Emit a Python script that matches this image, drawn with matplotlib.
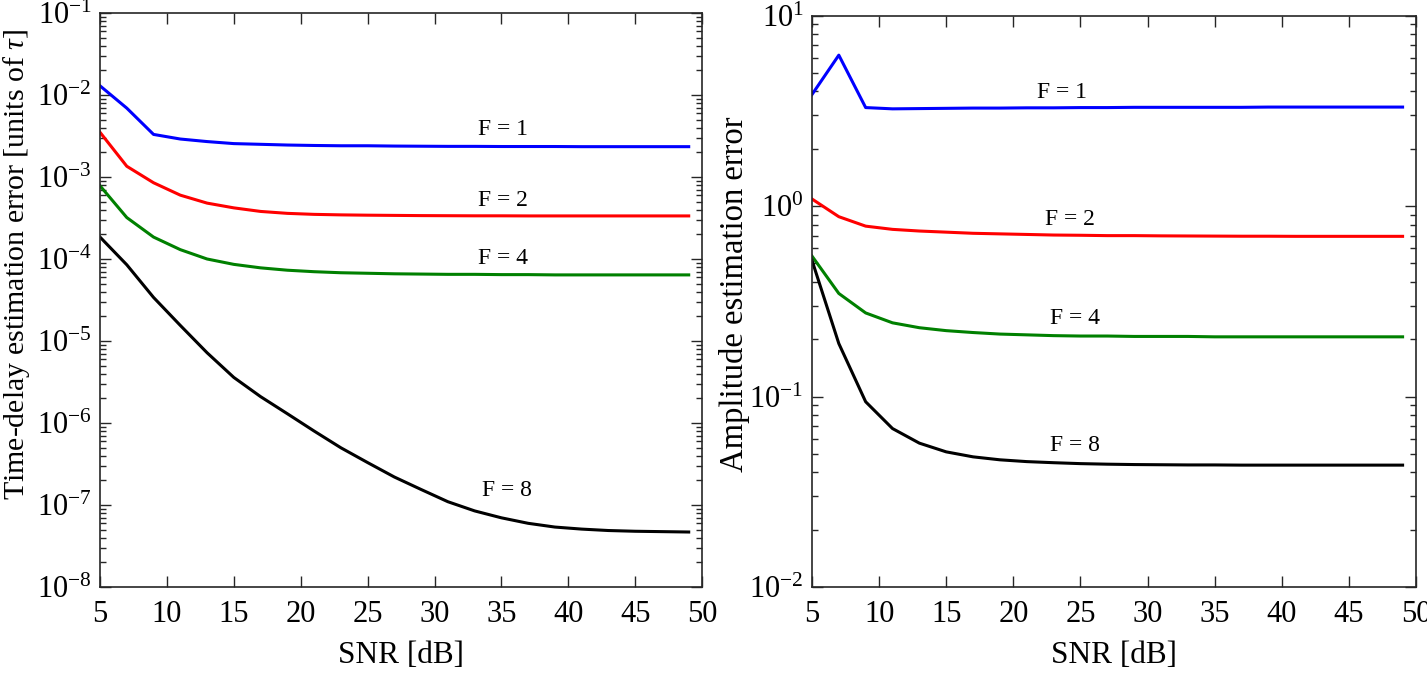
from matplotlib import pyplot as plt
from matplotlib.ticker import LogLocator, FixedLocator, NullLocator, FuncFormatter
import numpy as np

plt.rcParams["font.family"] = ["Liberation Serif", "DejaVu Serif"]
plt.rcParams["mathtext.fontset"] = "custom"
plt.rcParams["mathtext.rm"] = "Liberation Serif"
plt.rcParams["mathtext.it"] = "Liberation Serif:italic"

snr = np.arange(5, 50, 2)

# time-delay estimation error (units of tau)
delay_f1 = [1.29e-2, 6.9e-3, 3.3e-3, 2.9e-3, 2.7e-3, 2.55e-3, 2.5e-3, 2.45e-3,
            2.42e-3, 2.4e-3, 2.4e-3, 2.38e-3, 2.37e-3, 2.36e-3, 2.36e-3, 2.35e-3,
            2.35e-3, 2.35e-3, 2.34e-3, 2.34e-3, 2.34e-3, 2.34e-3, 2.34e-3]
delay_f2 = [3.5e-3, 1.35e-3, 8.5e-4, 6.0e-4, 4.8e-4, 4.2e-4, 3.8e-4, 3.6e-4,
            3.5e-4, 3.45e-4, 3.42e-4, 3.4e-4, 3.38e-4, 3.37e-4, 3.36e-4, 3.36e-4,
            3.35e-4, 3.35e-4, 3.35e-4, 3.35e-4, 3.35e-4, 3.35e-4, 3.35e-4]
delay_f4 = [7.8e-4, 3.2e-4, 1.85e-4, 1.3e-4, 1.0e-4, 8.6e-5, 7.8e-5, 7.3e-5,
            7.0e-5, 6.8e-5, 6.7e-5, 6.6e-5, 6.55e-5, 6.5e-5, 6.5e-5, 6.45e-5,
            6.45e-5, 6.4e-5, 6.4e-5, 6.4e-5, 6.4e-5, 6.4e-5, 6.4e-5]
delay_f8 = [1.85e-4, 8.5e-5, 3.4e-5, 1.55e-5, 7.2e-6, 3.6e-6, 2.1e-6, 1.3e-6,
            8.0e-7, 5.0e-7, 3.3e-7, 2.2e-7, 1.55e-7, 1.1e-7, 8.5e-8, 7.0e-8,
            6.0e-8, 5.4e-8, 5.1e-8, 4.9e-8, 4.8e-8, 4.75e-8, 4.7e-8]

# amplitude estimation error
amp_f1 = [3.85, 6.2, 3.29, 3.24, 3.25, 3.26, 3.27, 3.27, 3.28, 3.28, 3.29, 3.29,
          3.3, 3.3, 3.3, 3.3, 3.3, 3.31, 3.31, 3.31, 3.31, 3.31, 3.31]
amp_f2 = [1.09, 0.88, 0.785, 0.755, 0.74, 0.73, 0.72, 0.715, 0.71, 0.705, 0.703,
          0.7, 0.7, 0.698, 0.697, 0.696, 0.695, 0.695, 0.694, 0.694, 0.694, 0.694, 0.694]
amp_f4 = [0.547, 0.348, 0.275, 0.244, 0.23, 0.222, 0.217, 0.213, 0.211, 0.209,
          0.208, 0.208, 0.207, 0.207, 0.207, 0.206, 0.206, 0.206, 0.206, 0.206,
          0.206, 0.206, 0.206]
amp_f8 = [0.52, 0.19, 0.094, 0.068, 0.057, 0.0513, 0.0483, 0.0466, 0.0456, 0.045,
          0.0445, 0.0442, 0.044, 0.0439, 0.0438, 0.0438, 0.0437, 0.0437, 0.0437,
          0.0437, 0.0437, 0.0437, 0.0437]

labels = ["F = 1", "F = 2", "F = 4", "F = 8"]
colors = ["#0000ff", "#ff0000", "#008000", "#000000"]

delay_label_pos = [(35.1, 3.74e-3), (35.1, 5.1e-4), (35.1, 1.02e-4), (35.4, 1.5e-7)]
amp_label_pos = [(23.6, 3.97), (24.2, 0.855), (24.6, 0.258), (24.6, 0.0556)]


def pow10(v, pos):
    n = int(round(np.log10(v)))
    return r"$\mathregular{10^{%d}}$" % n


def style_axes(ax, ymin, ymax):
    ax.set_yscale("log")
    ax.set_xlim(5, 50)
    ax.set_ylim(ymin, ymax)
    ax.xaxis.set_major_locator(FixedLocator(np.arange(5, 51, 5)))
    ax.xaxis.set_minor_locator(NullLocator())
    ax.yaxis.set_major_locator(LogLocator(base=10, numticks=20))
    ax.yaxis.set_minor_locator(LogLocator(base=10, subs=np.arange(2, 10), numticks=20))
    ax.yaxis.set_major_formatter(FuncFormatter(pow10))
    ax.tick_params(which="both", direction="in", top=True, right=True,
                   labelsize=22, color="#262626", width=1)
    ax.tick_params(which="major", length=8)
    ax.tick_params(which="minor", length=4)
    ax.tick_params(axis="x", pad=9)
    ax.tick_params(axis="y", pad=6)
    for s in ax.spines.values():
        s.set_color("#262626")
        s.set_linewidth(1.2)
    ax.set_xlabel("SNR [dB]", fontsize=22.5, labelpad=9)


def plot_panel(ax, series, label_pos):
    for y, lab, c, pos in zip(series, labels, colors, label_pos):
        ax.plot(snr, y, color=c, lw=2.2)
        ax.text(pos[0], pos[1], lab, fontsize=17, ha="center", va="center")


fig = plt.figure(figsize=(14.27, 6.78), dpi=100)
ax1 = fig.add_axes([0.0701, 0.134, 0.4219, 0.847])
ax2 = fig.add_axes([0.569, 0.134, 0.4233, 0.843])

plot_panel(ax1, [delay_f1, delay_f2, delay_f4, delay_f8], delay_label_pos)
style_axes(ax1, 1e-8, 1e-1)
ax1.set_ylabel(r"Time-delay estimation error [units of $\mathit{\tau}$]", fontsize=21.5)
ax1.yaxis.set_label_coords(-0.113, 0.561)

plot_panel(ax2, [amp_f1, amp_f2, amp_f4, amp_f8], amp_label_pos)
style_axes(ax2, 1e-2, 1e1)
ax2.set_ylabel("Amplitude estimation error", fontsize=23.5)
ax2.yaxis.set_label_coords(-0.103, 0.513)

fig.savefig("out.png", dpi=100)
